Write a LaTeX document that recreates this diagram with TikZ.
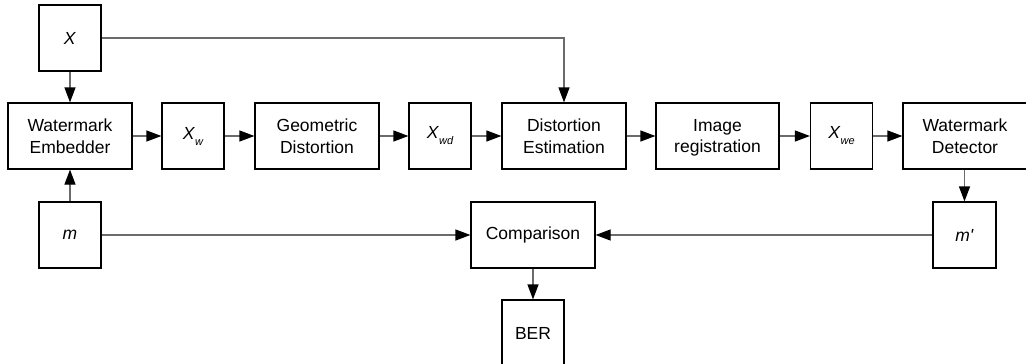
\documentclass[tikz,border=0pt]{standalone}
\usepackage{fontspec}
\setmainfont{Liberation Sans}
\usetikzlibrary{arrows.meta}
\newcommand{\sym}[2]{\textit{#1}\raisebox{-6pt}{\fontsize{11}{11}\selectfont\itshape #2}}
\tikzset{
  blk/.style={draw=black, line width=1.2pt, fill=white, inner sep=0pt,
    align=center, minimum height=66pt, minimum width=#1,
    font=\fontsize{17.5}{21.5}\selectfont},
  blk/.default=62pt,
  flow/.style={draw=black!58, line width=1.2pt,
    -{Triangle[length=15pt,width=11pt,color=black,fill=black]}}
}
\begin{document}
\begin{tikzpicture}[x=1pt,y=-1pt]
\useasboundingbox (0,0) rectangle (1026,364);
% top row of the processing chain
\node[blk] (x) at (70,38) {\textit{X}};
\node[blk=124pt] (emb) at (70,136) {Watermark\\Embedder};
\node[blk] (xw) at (193,136) {\sym{X}{w}};
\node[blk=124pt] (geo) at (317,136) {Geometric\\Distortion};
\node[blk] (xwd) at (440,136) {\sym{X}{wd}};
\node[blk=124pt] (est) at (564,136) {Distortion\\Estimation};
\node[blk=123pt] (reg) at (717.5,136) {Image\\\smash{registration}};
\node[blk] (xwe) at (841.5,136) {\sym{X}{we}};
\node[blk=124pt] (det) at (965,136) {Watermark\\Detector};
% bottom row
\node[blk] (m) at (70,235) {\textit{m}};
\node[blk=124pt] (cmp) at (533,235) {Comparison};
\node[blk] (ber) at (533,333) {BER};
\node[blk=63pt] (mp) at (964.5,235) {\textit{m\textquotesingle}};
% connectors
\draw[flow] (x) -- (emb);
\draw[flow] (m) -- (emb);
\draw[flow] (emb) -- (xw);
\draw[flow] (xw) -- (geo);
\draw[flow] (geo) -- (xwd);
\draw[flow] (xwd) -- (est);
\draw[flow] (est) -- (reg);
\draw[flow] (reg) -- (xwe);
\draw[flow] (xwe) -- (det);
\draw[flow] (x.east) -| (est.north);
\draw[flow] (det.south -| mp.north) -- (mp.north);
\draw[flow] (m) -- (cmp);
\draw[flow] (mp) -- (cmp);
\draw[flow] (cmp) -- (ber);
\end{tikzpicture}
\end{document}
